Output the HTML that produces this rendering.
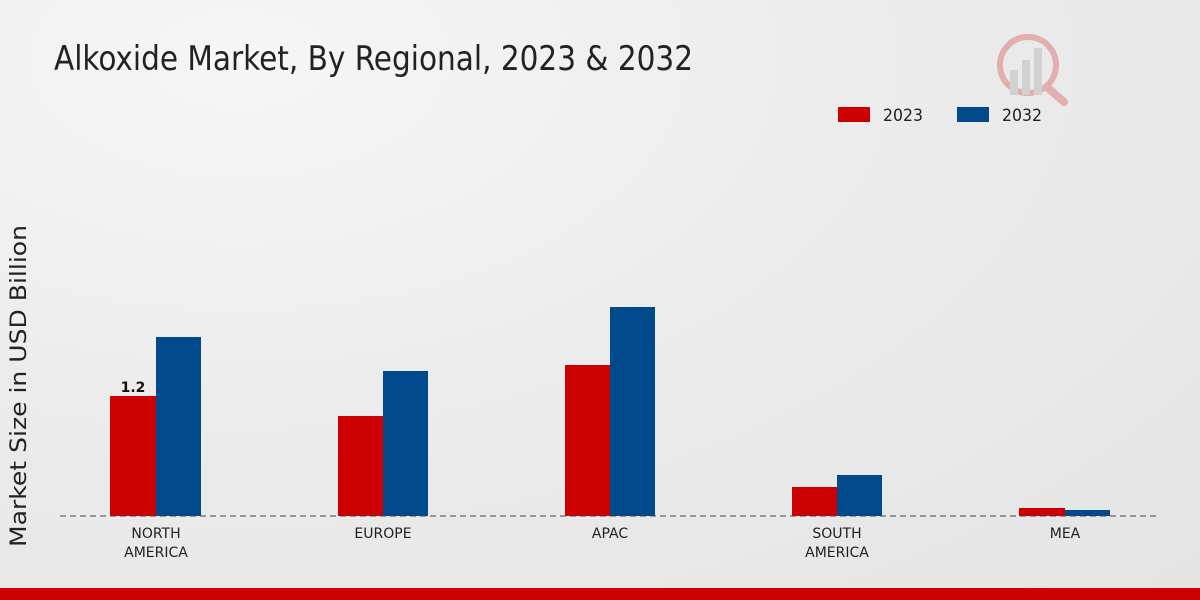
<!DOCTYPE html>
<html><head><meta charset="utf-8"><style>
html,body{margin:0;padding:0;}
body{width:1200px;height:600px;overflow:hidden;background:radial-gradient(ellipse at 20% 10%,#f6f6f6 0%,#ebebeb 50%,#e4e4e4 100%);font-family:"DejaVu Sans","Liberation Sans",sans-serif;position:relative;}
svg{position:absolute;left:0;top:0;}
</style></head><body>
<svg width="1200" height="600" xmlns="http://www.w3.org/2000/svg">
<text x="54" y="70" font-family="DejaVu Sans Condensed, DejaVu Sans, sans-serif" font-size="34" fill="#222" textLength="639" lengthAdjust="spacingAndGlyphs">Alkoxide Market, By Regional, 2023 &amp; 2032</text>
<g opacity="0.25">
<circle cx="1028" cy="65" r="28" fill="none" stroke="#c00" stroke-width="6"/>
<rect x="1010" y="70" width="8" height="25" fill="#888"/>
<rect x="1022" y="60" width="8" height="35" fill="#888"/>
<rect x="1034" y="48" width="8" height="47" fill="#888"/>
<line x1="1048" y1="88" x2="1064" y2="102" stroke="#c00" stroke-width="8" stroke-linecap="round"/>
</g>
<rect x="838" y="107" width="32" height="15" fill="#cc0000"/>
<text x="883" y="121" font-size="17" fill="#222" textLength="40" lengthAdjust="spacingAndGlyphs">2023</text>
<rect x="957" y="107" width="32" height="15" fill="#004a8c"/>
<text x="1002" y="121" font-size="17" fill="#222" textLength="40" lengthAdjust="spacingAndGlyphs">2032</text>
<text transform="translate(26,386) rotate(-90)" text-anchor="middle" font-size="22" fill="#222" textLength="322" lengthAdjust="spacingAndGlyphs">Market Size in USD Billion</text>
<rect x="110" y="396" width="46" height="120" fill="#cc0000"/>
<rect x="156" y="337" width="45" height="179" fill="#004a8c"/>
<rect x="338" y="416" width="45" height="100" fill="#cc0000"/>
<rect x="383" y="371" width="45" height="145" fill="#004a8c"/>
<rect x="565" y="365" width="45" height="151" fill="#cc0000"/>
<rect x="610" y="307" width="45" height="209" fill="#004a8c"/>
<rect x="792" y="487" width="45" height="29" fill="#cc0000"/>
<rect x="837" y="475" width="45" height="41" fill="#004a8c"/>
<rect x="1019" y="508" width="46" height="8" fill="#cc0000"/>
<rect x="1065" y="510" width="45" height="6" fill="#004a8c"/>
<text x="133" y="392" text-anchor="middle" font-size="14" font-weight="bold" fill="#111">1.2</text>
<line x1="60" y1="516" x2="1160" y2="516" stroke="#444" stroke-width="1" stroke-dasharray="6,4"/>
<g font-size="14" fill="#222" text-anchor="middle">
<text x="156" y="538">NORTH</text><text x="156" y="557">AMERICA</text>
<text x="383" y="538">EUROPE</text>
<text x="610" y="538">APAC</text>
<text x="837" y="538">SOUTH</text><text x="837" y="557">AMERICA</text>
<text x="1065" y="538">MEA</text>
</g>
<rect x="0" y="588" width="1200" height="12" fill="#cc0000"/>
</svg>
</body></html>
